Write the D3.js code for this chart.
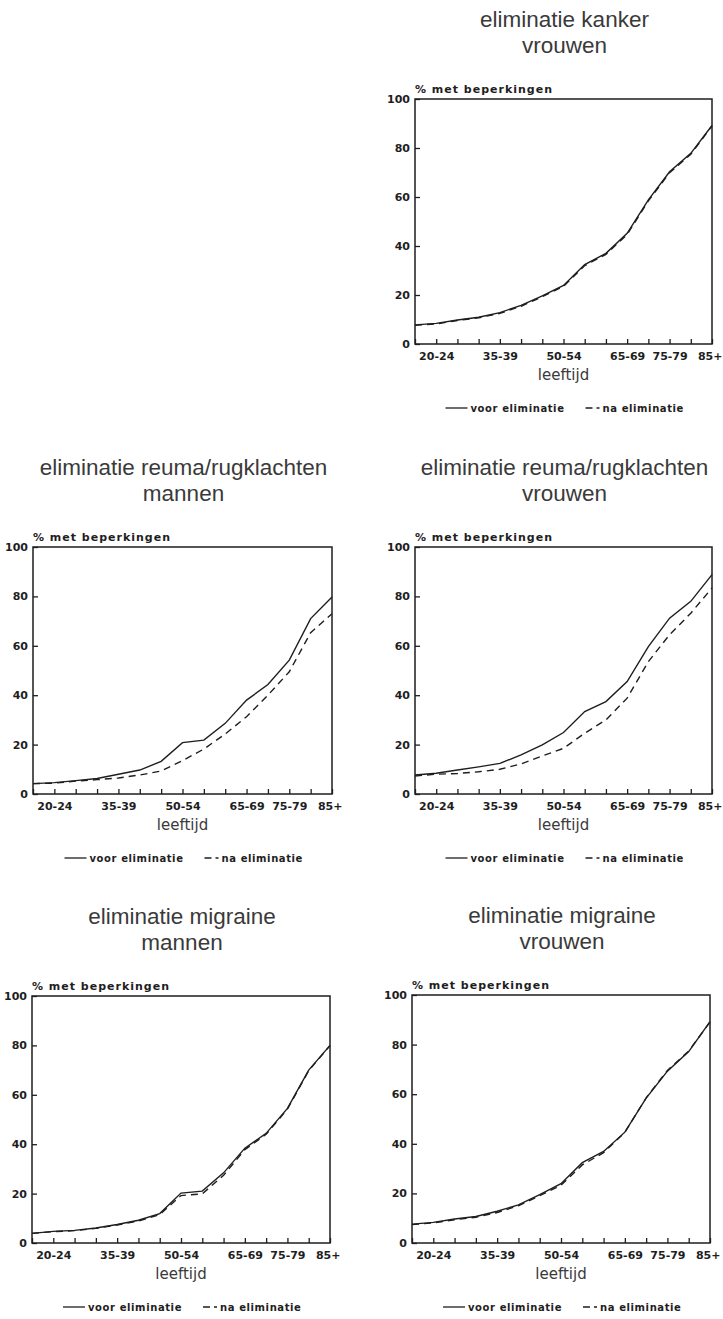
<!DOCTYPE html>
<html>
<head>
<meta charset="utf-8">
<script src="https://cdn.jsdelivr.net/npm/d3@7"></script>
<style>
  body { margin: 0; background: #fff; }
  svg { display: block; }
</style>
</head>
<body>
<div id="chart"></div>
<script>
// age groups on the x axis (15-19 ... 85+)
const ages = ["15-19", "20-24", "25-29", "30-34", "35-39", "40-44", "45-49",
  "50-54", "55-59", "60-64", "65-69", "70-74", "75-79", "80-84", "85+"];
const ageLabels = ["20-24", "35-39", "50-54", "65-69", "75-79", "85+"];
const yTicks = [0, 20, 40, 60, 80, 100];

// % met beperkingen
const kankerVrouwenVoor = [7.8, 8.4, 9.8, 10.9, 12.8, 15.8, 19.6, 23.9, 32.4, 37.0, 45.2, 58.8, 70.3, 77.8, 89.2];
const kankerVrouwenNa = [7.6, 8.2, 9.6, 10.7, 12.5, 15.4, 19.3, 23.5, 32.0, 36.6, 44.7, 58.4, 69.9, 77.4, 89.0];

const reumaMannenVoor = [4.2, 4.6, 5.4, 6.3, 8.0, 9.7, 13.2, 20.8, 21.8, 28.6, 38.0, 44.3, 54.2, 71.0, 79.8];
const reumaMannenNa = [4.2, 4.4, 5.2, 5.8, 6.5, 7.7, 9.3, 13.5, 18.2, 24.3, 31.3, 40.0, 49.5, 65.3, 73.0];

const reumaVrouwenVoor = [7.7, 8.4, 9.7, 11.0, 12.4, 15.8, 19.9, 24.9, 33.4, 37.4, 45.5, 59.7, 71.2, 78.0, 88.8];
const reumaVrouwenNa = [7.3, 8.0, 8.3, 9.0, 10.0, 12.2, 15.4, 18.5, 24.6, 30.0, 38.8, 53.6, 64.5, 73.2, 83.4];

const migraineMannenVoor = [3.9, 4.7, 5.1, 6.1, 7.5, 9.2, 11.9, 20.2, 21.0, 28.4, 38.4, 44.4, 54.5, 70.0, 80.0];
const migraineMannenNa = [3.9, 4.6, 5.0, 5.9, 7.3, 8.9, 11.5, 19.2, 19.9, 27.4, 37.8, 44.0, 54.2, 69.8, 79.9];

const migraineVrouwenVoor = [7.6, 8.3, 9.7, 10.7, 12.8, 15.4, 19.5, 23.9, 32.4, 36.9, 44.7, 58.4, 69.3, 77.2, 89.3];
const migraineVrouwenNa = [7.4, 8.1, 9.4, 10.4, 12.3, 15.0, 19.1, 23.3, 31.5, 36.4, 44.6, 58.5, 69.6, 77.4, 89.1];

const panels = [
  { title: "eliminatie kanker", sub: "vrouwen", voor: kankerVrouwenVoor, na: kankerVrouwenNa,
    x0: 415, x1: 712, y0: 99, y1: 344 },
  { title: "eliminatie reuma/rugklachten", sub: "mannen", voor: reumaMannenVoor, na: reumaMannenNa,
    x0: 33, x1: 332, y0: 547, y1: 794 },
  { title: "eliminatie reuma/rugklachten", sub: "vrouwen", voor: reumaVrouwenVoor, na: reumaVrouwenNa,
    x0: 415, x1: 712, y0: 547, y1: 794 },
  { title: "eliminatie migraine", sub: "mannen", voor: migraineMannenVoor, na: migraineMannenNa,
    x0: 32, x1: 330, y0: 996, y1: 1243 },
  { title: "eliminatie migraine", sub: "vrouwen", voor: migraineVrouwenVoor, na: migraineVrouwenNa,
    x0: 412, x1: 710, y0: 995, y1: 1243 }
];

const ink = "#1e1e1e";
const grey = "#3a3a3a";

const svg = d3.select("#chart")
  .append("svg")
  .attr("width", 723)
  .attr("height", 1319);

panels.forEach((p) => {
  const g = svg.append("g");
  const cx = (p.x0 + p.x1) / 2;

  const x = d3.scalePoint().domain(ages).range([p.x0, p.x1]).padding(0);
  const y = d3.scaleLinear().domain([0, 100]).range([p.y1, p.y0]);

  // titles
  g.append("text")
    .attr("x", cx + 1)
    .attr("y", p.y0 - 72)
    .attr("text-anchor", "middle")
    .attr("font-family", "Liberation Sans, Arial, sans-serif")
    .attr("font-size", 22.5)
    .attr("fill", grey)
    .text(p.title);
  g.append("text")
    .attr("x", cx + 1)
    .attr("y", p.y0 - 46)
    .attr("text-anchor", "middle")
    .attr("font-family", "Liberation Sans, Arial, sans-serif")
    .attr("font-size", 22.5)
    .attr("fill", grey)
    .text(p.sub);

  g.append("text")
    .attr("x", p.x0)
    .attr("y", p.y0 - 6)
    .attr("font-family", "DejaVu Sans, sans-serif")
    .attr("font-weight", "bold")
    .attr("font-size", 11)
    .attr("letter-spacing", 1)
    .attr("fill", ink)
    .text("% met beperkingen");

  // axes with inward ticks
  const xAxis = g.append("g")
    .attr("transform", `translate(0, ${p.y1})`)
    .call(d3.axisBottom(x)
      .tickSize(-5)
      .tickPadding(8)
      .tickFormat((d) => (ageLabels.includes(d) ? d : "")));

  const yAxis = g.append("g")
    .attr("transform", `translate(${p.x0}, 0)`)
    .call(d3.axisLeft(y)
      .tickValues(yTicks)
      .tickSize(-5)
      .tickPadding(5));

  [xAxis, yAxis].forEach((ax) => {
    ax.select(".domain").remove();
    ax.selectAll("line").attr("stroke", ink).attr("stroke-width", 1.3);
    ax.selectAll("text")
      .attr("font-family", "DejaVu Sans, sans-serif")
      .attr("font-weight", "bold")
      .attr("font-size", 11)
      .attr("fill", ink);
  });

  // last label sits at the frame corner, keep it on the page
  xAxis.selectAll(".tick text")
    .filter((d) => d === "85+")
    .attr("text-anchor", "end")
    .attr("x", 10);

  g.append("rect")
    .attr("x", p.x0)
    .attr("y", p.y0)
    .attr("width", p.x1 - p.x0)
    .attr("height", p.y1 - p.y0)
    .attr("fill", "none")
    .attr("stroke", ink)
    .attr("stroke-width", 1.5);

  g.append("text")
    .attr("x", cx)
    .attr("y", p.y1 + 36)
    .attr("text-anchor", "middle")
    .attr("font-family", "DejaVu Sans, sans-serif")
    .attr("font-size", 15)
    .attr("fill", grey)
    .text("leeftijd");

  // lines
  const line = d3.line()
    .x((d, i) => x(ages[i]))
    .y((d) => y(d));

  g.append("path")
    .datum(p.na)
    .attr("d", line)
    .attr("fill", "none")
    .attr("stroke", ink)
    .attr("stroke-width", 1.4)
    .attr("stroke-dasharray", "7,5");

  g.append("path")
    .datum(p.voor)
    .attr("d", line)
    .attr("fill", "none")
    .attr("stroke", ink)
    .attr("stroke-width", 1.4);

  // legend
  const ly = p.y1 + 68;
  const lx = cx - 118;
  g.append("line")
    .attr("x1", lx).attr("x2", lx + 22)
    .attr("y1", ly - 4).attr("y2", ly - 4)
    .attr("stroke", ink).attr("stroke-width", 1.3);
  g.append("text")
    .attr("x", lx + 25).attr("y", ly)
    .attr("font-family", "DejaVu Sans, sans-serif")
    .attr("font-weight", "bold")
    .attr("font-size", 10)
    .attr("letter-spacing", 0.6)
    .attr("fill", ink)
    .text("voor eliminatie");
  g.append("line")
    .attr("x1", lx + 140).attr("x2", lx + 154)
    .attr("y1", ly - 4).attr("y2", ly - 4)
    .attr("stroke", ink).attr("stroke-width", 1.3)
    .attr("stroke-dasharray", "7,4");
  g.append("text")
    .attr("x", lx + 157).attr("y", ly)
    .attr("font-family", "DejaVu Sans, sans-serif")
    .attr("font-weight", "bold")
    .attr("font-size", 10)
    .attr("letter-spacing", 0.6)
    .attr("fill", ink)
    .text("na eliminatie");
});
</script>
</body>
</html>
